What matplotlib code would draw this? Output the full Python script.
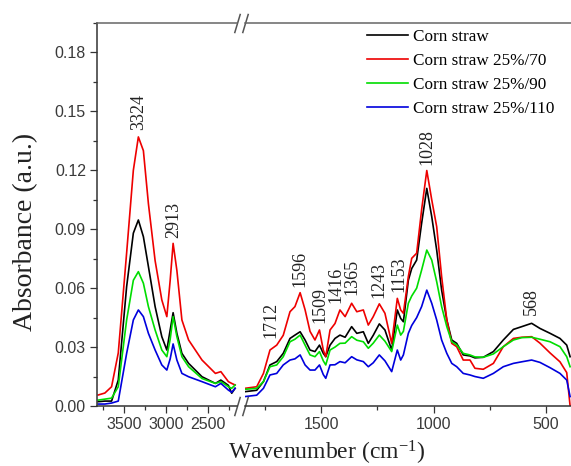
import matplotlib
matplotlib.use("Agg")
import matplotlib.pyplot as plt
from matplotlib.ticker import MultipleLocator, FormatStrFormatter

plt.rcParams['mathtext.fontset'] = 'custom'
plt.rcParams['mathtext.rm'] = 'Liberation Serif'
plt.rcParams['mathtext.it'] = 'Liberation Serif:italic'

# ---------------- data ----------------
series_names = ["Corn straw", "Corn straw 25%/70", "Corn straw 25%/90", "Corn straw 25%/110"]
series_colors = ["#000000", "#ee0000", "#00dd00", "#0000dd"]

wn_left = [3810, 3730, 3650, 3570, 3470, 3390, 3330, 3270, 3210, 3130, 3050, 2990,
           2950, 2915, 2870, 2810, 2730, 2570, 2410, 2345, 2255, 2215, 2175]
black_left = [0.0022, 0.0025, 0.0025, 0.0132, 0.0608, 0.088, 0.0947, 0.0862, 0.071, 0.0506, 0.0353, 0.0285,
              0.0387, 0.0475, 0.037, 0.0268, 0.0217, 0.0149, 0.0115, 0.0132, 0.0105, 0.0065, 0.009]
red_left = [0.0056, 0.0066, 0.0098, 0.027, 0.078, 0.120, 0.137, 0.130, 0.103, 0.074, 0.054, 0.0455,
            0.064, 0.0828, 0.069, 0.0438, 0.0336, 0.0234, 0.0166, 0.0175, 0.0124, 0.0115, 0.0107]
green_left = [0.003, 0.0035, 0.004, 0.0098, 0.0438, 0.064, 0.0684, 0.0625, 0.0506, 0.0387, 0.0285, 0.0251,
              0.034, 0.0455, 0.0353, 0.0251, 0.020, 0.014, 0.0115, 0.0124, 0.0098, 0.009, 0.0107]
blue_left = [0.001, 0.001, 0.0015, 0.0025, 0.0268, 0.0438, 0.0489, 0.0455, 0.037, 0.0285, 0.0209, 0.0183,
             0.024, 0.0316, 0.0234, 0.0166, 0.0149, 0.0124, 0.0098, 0.0115, 0.0081, 0.007, 0.009]

wn_right = [1838, 1786, 1756, 1727, 1697, 1668, 1638, 1616, 1593, 1571, 1549, 1527, 1507, 1490, 1479,
            1460, 1438, 1416, 1393, 1364, 1341, 1312, 1290, 1268, 1241, 1216, 1186, 1161, 1146, 1134,
            1112, 1097, 1075, 1053, 1030, 1008, 986, 964, 941, 919, 897, 868, 838, 816, 779, 734,
            690, 645, 608, 564, 527, 482, 438, 408, 393]
black_right = [0.0073, 0.008, 0.0124, 0.0209, 0.0226, 0.0268, 0.0344, 0.0361, 0.0378, 0.0336, 0.0285, 0.0277,
               0.031, 0.0268, 0.0251, 0.031, 0.0344, 0.0361, 0.035, 0.0404, 0.037, 0.0378, 0.0319, 0.036,
               0.0418, 0.0387, 0.0285, 0.0489, 0.0446, 0.0429, 0.064, 0.070, 0.0743, 0.093, 0.1108, 0.0964,
               0.0794, 0.059, 0.0438, 0.0336, 0.0319, 0.026, 0.0255, 0.0245, 0.0248, 0.0277, 0.0336, 0.039,
               0.0404, 0.0421, 0.0395, 0.037, 0.0344, 0.031, 0.0251]
red_right = [0.009, 0.0098, 0.0166, 0.0285, 0.031, 0.036, 0.048, 0.0506, 0.0577, 0.049, 0.038, 0.0336,
             0.0387, 0.0285, 0.0251, 0.0387, 0.042, 0.0489, 0.0455, 0.0523, 0.048, 0.0489, 0.0412, 0.0455,
             0.052, 0.0472, 0.0319, 0.0548, 0.0489, 0.0472, 0.0659, 0.0752, 0.0778, 0.0999, 0.1199, 0.105,
             0.0913, 0.0659, 0.0438, 0.0319, 0.0302, 0.0234, 0.0234, 0.0192, 0.0187, 0.0217, 0.0302, 0.0344,
             0.035, 0.0353, 0.032, 0.027, 0.0225, 0.017, 0.0]
green_right = [0.0085, 0.009, 0.0124, 0.020, 0.0209, 0.0251, 0.0327, 0.034, 0.0361, 0.031, 0.026, 0.0251,
               0.0277, 0.023, 0.0209, 0.0285, 0.030, 0.0319, 0.032, 0.0353, 0.0335, 0.0327, 0.0294, 0.032,
               0.0361, 0.033, 0.0277, 0.0412, 0.0361, 0.038, 0.0523, 0.056, 0.060, 0.0692, 0.0794, 0.0743,
               0.0633, 0.0506, 0.0404, 0.0327, 0.0311, 0.0268, 0.026, 0.025, 0.0248, 0.0265, 0.0302, 0.0336,
               0.0348, 0.035, 0.034, 0.0327, 0.0302, 0.0251, 0.020]
blue_right = [0.0048, 0.0055, 0.009, 0.0158, 0.0166, 0.0209, 0.0234, 0.024, 0.026, 0.0209, 0.0183, 0.0183,
              0.0209, 0.016, 0.0141, 0.0209, 0.021, 0.0226, 0.022, 0.0251, 0.0235, 0.0226, 0.020, 0.022,
              0.026, 0.023, 0.0175, 0.0285, 0.0234, 0.026, 0.037, 0.041, 0.045, 0.0506, 0.059, 0.0523,
              0.0438, 0.0336, 0.0268, 0.0217, 0.020, 0.0166, 0.0158, 0.015, 0.0141, 0.0166, 0.020, 0.0217,
              0.0225, 0.0234, 0.0222, 0.0195, 0.0166, 0.0132, 0.0048]

peak_labels_left = ["3324", "2913"]
peak_labels_right = ["1712", "1596", "1509", "1416", "1365", "1243", "1153", "1028", "568"]

y_ticks = [0.00, 0.03, 0.06, 0.09, 0.12, 0.15, 0.18]
x_ticks_left = [3500, 3000, 2500]
x_ticks_right = [1500, 1000, 500]

# ---------------- figure ----------------
W, H = 571, 466
fig = plt.figure(figsize=(W / 100, H / 100), dpi=100)

def fx(px):
    return px / W

def fy(py):
    return 1 - py / H

ax_l, ax_r, ax_t, ax_b = 97, 237, 23, 406
ax2_l = 245
ax1 = fig.add_axes([fx(ax_l), fy(ax_b), fx(ax_r - ax_l), (ax_b - ax_t) / H])
ax2 = fig.add_axes([fx(ax2_l), fy(ax_b), fx(W - ax2_l), (ax_b - ax_t) / H])

left_vals = [black_left, red_left, green_left, blue_left]
right_vals = [black_right, red_right, green_right, blue_right]
for name, col, lv, rv in zip(series_names, series_colors, left_vals, right_vals):
    ax1.plot(wn_left, lv, color=col, lw=1.2)
    ax2.plot(wn_right, rv, color=col, lw=1.2, label=name)

ax1.set_xlim(3824, 2152)
ax2.set_xlim(1838, 389)
for ax in (ax1, ax2):
    ax.set_ylim(0, 0.195)

spine_col = "#333333"

for ax in (ax1, ax2):
    ax.spines['right'].set_visible(False)
    ax.spines['top'].set_color("#666666")
    ax.spines['bottom'].set_color(spine_col)
    ax.spines['left'].set_color(spine_col)
    for s in ax.spines.values():
        s.set_linewidth(1.1)
    ax.tick_params(axis='both', which='major', direction='out', length=5, width=0.9,
                   colors=spine_col, labelcolor="#3a3a3a", pad=3)
    ax.tick_params(axis='both', which='minor', direction='out', length=3, width=0.9, colors=spine_col)
    ax.tick_params(top=False, right=False)

ax2.spines['left'].set_visible(False)
ax2.tick_params(axis='y', which='both', left=False, labelleft=False)

ax1.set_xticks(x_ticks_left)
ax1.xaxis.set_minor_locator(MultipleLocator(250))
ax2.set_xticks(x_ticks_right)
ax2.xaxis.set_minor_locator(MultipleLocator(250))
ax1.set_yticks(y_ticks)
ax1.yaxis.set_minor_locator(MultipleLocator(0.015))
ax1.yaxis.set_major_formatter(FormatStrFormatter('%.2f'))
for ax in (ax1, ax2):
    for lab in ax.get_xticklabels() + ax.get_yticklabels():
        lab.set_fontfamily("Liberation Sans")
        lab.set_fontsize(11.5)

# break marks
brk = dict(marker=[(-0.3, -1), (0.3, 1)], markersize=14, linestyle='none',
           color="#555555", mec="#555555", mew=1.1, clip_on=False)
ax1.plot([1, 1], [0, 1], transform=ax1.transAxes, **brk)
ax2.plot([0, 0], [0, 1], transform=ax2.transAxes, **brk)

# peak annotations
ann = dict(rotation=90, ha='center', va='bottom', fontsize=13, family='Liberation Serif', color='#222222')
left_ann_pos = [(3330, 0.1405), (2905, 0.0855)]
for lab, (x, y) in zip(peak_labels_left, left_ann_pos):
    ax1.text(x, y, lab, **ann)
right_ann_pos = [(1722, 0.0346), (1593, 0.0606), (1507, 0.0423), (1434, 0.0524), (1362, 0.0565),
                 (1242, 0.055), (1153, 0.058), (1029, 0.1227), (567, 0.0463)]
for lab, (x, y) in zip(peak_labels_right, right_ann_pos):
    ax2.text(x, y, lab, **ann)

# labels
fig.text(fx(26), fy(232), "Absorbance (a.u.)", rotation=90, ha='center', va='center',
         fontsize=20, family='Liberation Serif', color='#222222')
fig.text(fx(327), fy(453), "Wavenumber (cm$^{-1}$)", ha='center', va='center',
         fontsize=17, family='Liberation Serif', color='#222222')

leg = fig.legend(loc='upper left', bbox_to_anchor=(fx(367), fy(29)), frameon=False,
                 prop=dict(family='Liberation Serif', size=12.3), handlelength=2.4,
                 handletextpad=0.3, labelspacing=0.46, borderpad=0, borderaxespad=0)

fig.savefig("out.png", dpi=100)
